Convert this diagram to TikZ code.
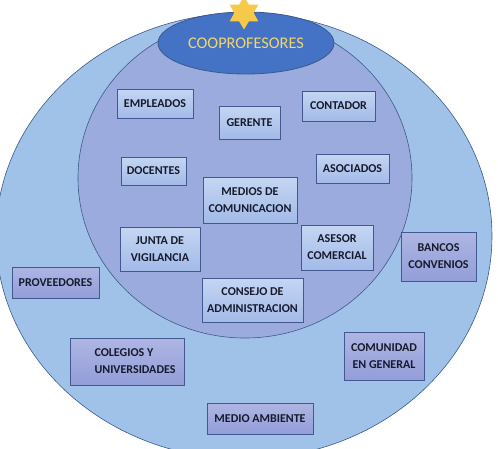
\documentclass[tikz,border=0pt]{standalone}
\usepackage{fontspec}
\setmainfont{Carlito}
\usetikzlibrary{shapes.geometric,shadows}
\definecolor{ringout}{HTML}{A1C2E8}
\definecolor{ringin}{HTML}{9CABDD}
\definecolor{edge}{HTML}{3B5A8C}
\definecolor{core}{HTML}{4472C4}
\definecolor{gold}{HTML}{F7C948}
\definecolor{title}{HTML}{F3D66A}
\definecolor{ink}{HTML}{161A2C}
\definecolor{boxtop}{HTML}{C4D6F3}
\definecolor{boxbot}{HTML}{A3BAE8}
\definecolor{lavtop}{HTML}{AEB6E4}
\definecolor{lavbot}{HTML}{939DD8}
\definecolor{boxline}{HTML}{435890}
\tikzset{
  ring/.style={draw=edge, line width=0.6pt},
  actor/.style={rectangle, draw=boxline, line width=0.8pt, text=ink,
    font=\bfseries\fontsize{12}{17}\selectfont, align=center, inner sep=1pt,
    drop shadow={opacity=0.3, shadow xshift=0.8pt, shadow yshift=-0.8pt}},
  inbox/.style={actor, top color=boxtop, bottom color=boxbot},
  outbox/.style={actor, top color=lavtop, bottom color=lavbot},
}

\begin{document}
\begin{tikzpicture}[x=1pt,y=-1pt]
  \useasboundingbox (0,0) rectangle (498,448);
  \clip (0,0) rectangle (498,448);
  % rings
  \draw[ring, fill=ringout] (244,236) ellipse [x radius=248, y radius=223];
  \draw[ring, fill=ringin] (245,178) ellipse [x radius=167, y radius=160];
  \node[ellipse, draw=edge, line width=0.8pt, fill=core, minimum width=176pt,
    minimum height=62pt, text=title, font=\fontsize{16.3}{18}\selectfont] (coop) at (246,43) {COOPROFESORES};
  \node[star, star points=6, star point ratio=1.7, fill=gold, minimum size=33pt, inner sep=0pt] (sol) at (244,13) {};
  % inner circle
  \foreach \n/\x/\y/\w/\h/\t in {
      empleados/155/103.5/76/29/EMPLEADOS,
      gerente/249.5/122.5/61/33/GERENTE,
      contador/338.5/106/73/30/CONTADOR,
      docentes/153.5/171/65/28/DOCENTES,
      asociados/352.5/168.5/73/29/ASOCIADOS,
      medios/250/200/94/46/{MEDIOS DE\\COMUNICACION},
      junta/160/249/80/44/{JUNTA DE\\VIGILANCIA},
      asesor/337/247.5/72/45/{ASESOR\\COMERCIAL},
      consejo/252.5/300/101/44/{CONSEJO DE\\ADMINISTRACION}}
    \node[inbox, minimum width=\w pt, minimum height=\h pt] (\n) at (\x,\y) {\t};
  % outer ring
  \foreach \n/\x/\y/\w/\h/\t in {
      bancos/438.5/256.5/75/49/{BANCOS\\CONVENIOS},
      proveedores/55.5/282.5/87/31/PROVEEDORES,
      comunidad/384/356/80/48/{COMUNIDAD\\EN GENERAL},
      ambiente/260/418.5/106/31/MEDIO AMBIENTE}
    \node[outbox, minimum width=\w pt, minimum height=\h pt] (\n) at (\x,\y) {\t};
  \node[outbox, minimum width=114pt, minimum height=47pt, align=left] (colegios) at (127,361.5)
    {\hspace*{16pt}COLEGIOS Y\\\hspace*{16pt}UNIVERSIDADES};
\end{tikzpicture}
\end{document}
